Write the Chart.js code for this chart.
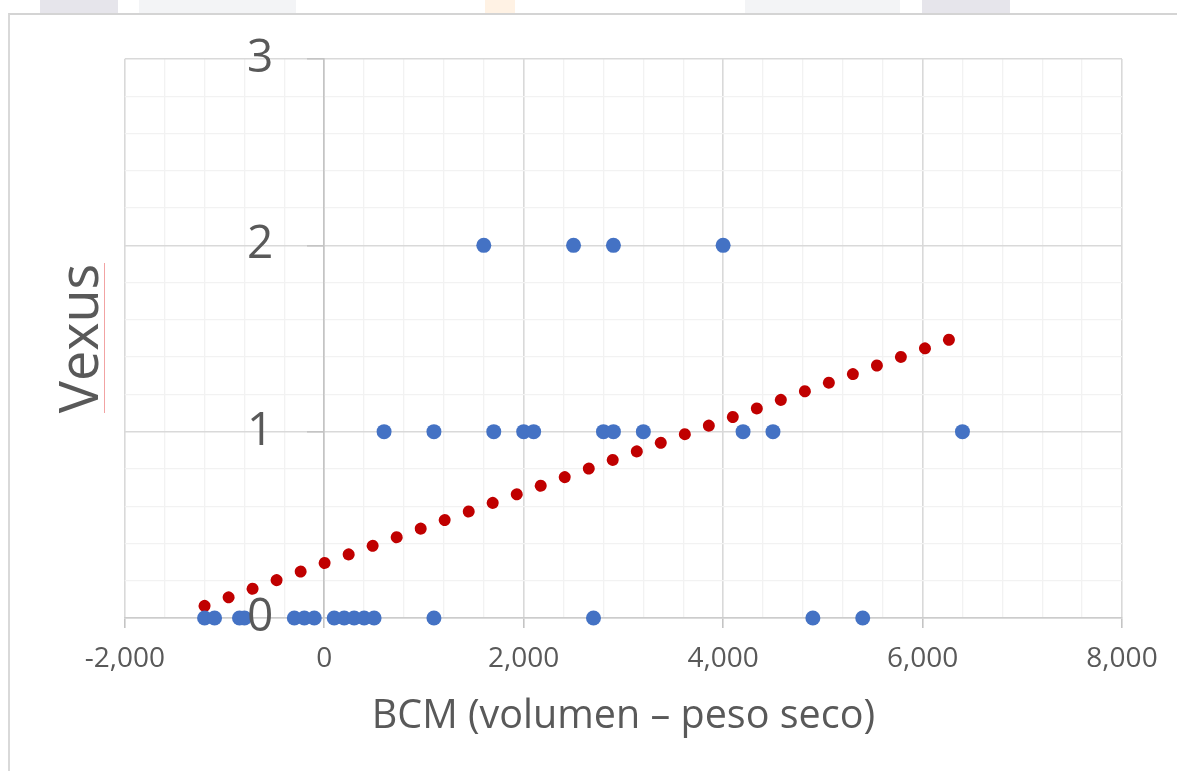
<!DOCTYPE html>
<html>
<head>
<meta charset="utf-8">
<script src="https://cdn.jsdelivr.net/npm/chart.js@4"></script>
<style>
	body { margin: 0; background: #fff; }
	#wrap { position: absolute; left: 0; top: 0; width: 1177px; height: 771px; }
	#frame { position: absolute; left: 8px; top: 13px; width: 1175px; height: 770px; border-left: 2px solid #d9d9d9; border-top: 2px solid #d4d4d4; }
	.blob { position: absolute; top: 0; height: 13px; }
	#spell { position: absolute; left: 104px; top: 263px; width: 1px; height: 150px; background: #f2a3a3; }
	canvas { position: absolute; left: 0; top: 0; }
</style>
</head>
<body>
<div id="wrap">
	<!-- faint bits of the page behind the chart -->
	<div class="blob" style="left:40px;width:78px;background:#e6e5eb"></div>
	<div class="blob" style="left:139px;width:157px;background:#f3f4f6"></div>
	<div class="blob" style="left:485px;width:30px;background:#fff2e4"></div>
	<div class="blob" style="left:745px;width:155px;background:#f3f4f6"></div>
	<div class="blob" style="left:922px;width:88px;background:#e6e5eb"></div>
	<div id="frame"></div>
	<canvas id="myChart" width="1177" height="771"></canvas>
	<div id="spell"></div>
</div>
<script>
// DATA
let bcm0 = [-1200, -1100, -850, -800, -300, -200, -100, 100, 200, 300, 400, 500, 1100, 2700, 4900, 5400];
let bcm1 = [600, 1100, 1700, 2000, 2100, 2800, 2900, 3200, 4200, 4500, 6400];
let bcm2 = [1600, 2500, 2900, 4000];
let trendX = [-1200, 6300];
let trendY = [0.065, 1.5];

let xTicks = [-2000, 0, 2000, 4000, 6000, 8000];
let yTicks = [0, 1, 2, 3];

let font = "'Open Sans', sans-serif";
let textColor = "#595959";

// BUILD THE POINT LISTS
let points = [];
bcm0.forEach(function (v) { points.push({ x: v, y: 0 }); });
bcm1.forEach(function (v) { points.push({ x: v, y: 1 }); });
bcm2.forEach(function (v) { points.push({ x: v, y: 2 }); });

let trend = trendX.map(function (v, i) { return { x: v, y: trendY[i] }; });

function isMajorX(v) { return xTicks.indexOf(v) !== -1; }
function isMajorY(v) { return Math.abs(v - Math.round(v)) < 1e-6; }

// Y LABELS SIT LEFT OF THE AXIS AT X = 0 AND ABOVE THE POINTS
const yLabels = {
	id: "yLabels",
	afterDatasetsDraw(chart) {
		let c = chart.ctx;
		let axisX = chart.scales.x.getPixelForValue(0);
		c.save();
		c.fillStyle = textColor;
		c.font = "46px " + font;
		c.textAlign = "right";
		c.textBaseline = "middle";
		yTicks.forEach(function (v) {
			c.fillText(String(v), axisX - 51, chart.scales.y.getPixelForValue(v));
		});
		c.restore();
	},
};

const ctx = document.getElementById("myChart").getContext("2d");
const myChart = new Chart(ctx, {
	type: "scatter",
	plugins: [yLabels],
	data: {
		datasets: [
			{
				label: "Vexus",
				data: points,
				backgroundColor: "#4472C4",
				borderWidth: 0,
				pointRadius: 7.5,
				pointHoverRadius: 7.5,
				clip: false,
			},
			{
				label: "Trend",
				data: trend,
				showLine: true,
				borderColor: "#C00000",
				borderWidth: 12,
				borderDash: [0.01, 25.49],
				borderCapStyle: "round",
				pointRadius: 0,
				clip: false,
			},
		],
	},
	options: {
		responsive: false,
		animation: false,
		events: [],
		layout: { padding: { left: 50, right: 55, top: 59, bottom: 20 } },
		plugins: { legend: { display: false }, tooltip: { enabled: false } },
		scales: {
			x: {
				type: "linear",
				position: "bottom",
				min: -2000,
				max: 8000,
				ticks: {
					stepSize: 400,
					autoSkip: false,
					maxRotation: 0,
					padding: 14,
					color: textColor,
					font: { family: font, size: 28 },
					callback: function (v) { return isMajorX(v) ? v.toLocaleString("en-US") : ""; },
				},
				grid: {
					color: function (c) { return isMajorX(c.tick.value) ? "#d9d9d9" : "#f2f2f2"; },
					lineWidth: function (c) { return isMajorX(c.tick.value) ? 1.6 : 1.3; },
					tickLength: 10,
					tickColor: function (c) { return isMajorX(c.tick.value) ? "#c4c4c4" : "rgba(0,0,0,0)"; },
				},
				border: { color: "#cccccc", width: 1.6 },
				title: {
					display: true,
					text: "BCM (volumen – peso seco)",
					color: textColor,
					font: { family: font, size: 39.5 },
					padding: { top: 3, bottom: 11 },
				},
			},
			y: {
				type: "linear",
				position: { x: 0 },
				min: 0,
				max: 3,
				ticks: { stepSize: 0.2, display: false },
				grid: {
					color: function (c) { return isMajorY(c.tick.value) ? "#d9d9d9" : "#f2f2f2"; },
					lineWidth: function (c) { return isMajorY(c.tick.value) ? 1.6 : 1.3; },
					tickLength: 16,
					tickColor: function (c) { return isMajorY(c.tick.value) ? "#c4c4c4" : "rgba(0,0,0,0)"; },
				},
				border: { color: "#c4c4c4", width: 1.6 },
			},
			// ONLY HOLDS THE Y AXIS TITLE
			yt: {
				type: "linear",
				position: "left",
				min: 0,
				max: 3,
				ticks: { display: false },
				grid: { display: false, drawTicks: false },
				border: { display: false },
				title: {
					display: true,
					text: "Vexus",
					color: textColor,
					font: { family: font, size: 54 },
					padding: { top: 0, bottom: 10 },
				},
			},
		},
	},
});
</script>
</body>
</html>
